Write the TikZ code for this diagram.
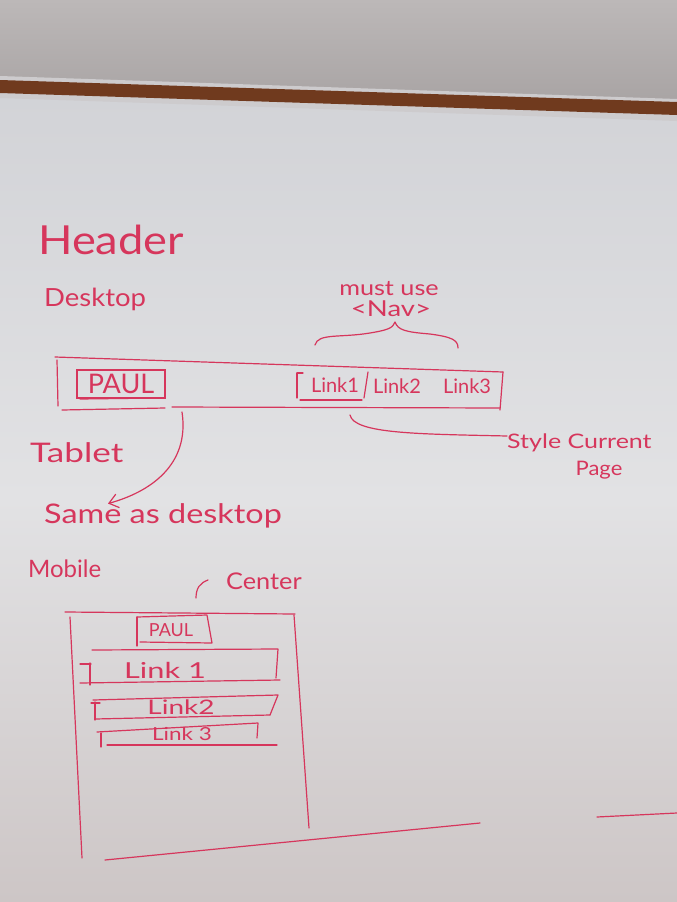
\documentclass[tikz,border=0pt]{standalone}
\usepackage{fontspec}
\setmainfont{Lato}
\usetikzlibrary{arrows.meta}
\definecolor{marker}{RGB}{214,54,92}
\definecolor{wall}{RGB}{165,160,160}
\definecolor{walltop}{RGB}{188,184,184}
\definecolor{ledge}{RGB}{112,58,30}
\definecolor{ledgeedge}{RGB}{205,203,205}
\definecolor{boardtop}{RGB}{210,211,215}
\definecolor{boardmid}{RGB}{226,226,228}
\definecolor{boardbot}{RGB}{205,198,198}
\newcommand{\fs}[1]{\fontsize{#1}{#1}\selectfont}
\newcommand{\wide}[2]{\scalebox{#1}[1]{#2}}
\begin{document}
\begin{tikzpicture}[x=1pt,y=-1pt,
  ink/.style={draw=marker, line width=1.2pt, line cap=round, line join=round},
  txt/.style={text=marker, inner sep=0pt, anchor=west},
  ctxt/.style={text=marker, inner sep=0pt, anchor=center}]
\useasboundingbox (0,0) rectangle (677,902);
% background: wall, ledge, whiteboard
\shade[top color=walltop, bottom color=wall] (0,0) rectangle (677,122);
\shade[top color=boardtop, bottom color=boardbot, middle color=boardmid] (0,96) -- (677,119) -- (677,902) -- (0,902) -- cycle;
\fill[ledgeedge] (0,76) -- (677,99) -- (677,121) -- (0,98) -- cycle;
\fill[ledge] (0,80) -- (677,102) -- (677,115) -- (0,93) -- cycle;

% ---------- Header / Desktop ----------
\node[txt, font=\fs{40}] (header) at (38,240) {\wide{1.13}{Header}};
\node[txt, font=\fs{25}] (desktop) at (44,299) {\wide{1.1}{Desktop}};
\node[ctxt, font=\fs{21}] (mustuse) at (389,289) {\wide{1.2}{must use}};
\node[ctxt, font=\fs{22}] (nav) at (391,309) {\wide{1.25}{<Nav>}};
\coordinate (bracetip) at (395,322);
% brace
\draw[ink] (315,345) .. controls (318,333) and (340,338) .. (370,333)
  .. controls (388,330) and (393,328) .. (bracetip)
  .. controls (398,330) and (405,332) .. (430,334)
  .. controls (452,337) and (458,340) .. (458,348);

% desktop bar
\draw[ink] (55,357) -- (503,372);
\draw[ink] (57,360) -- (58,406);
\draw[ink] (62,410) -- (165,408);
\draw[ink] (172,407) -- (500,408);
\draw[ink] (503,372) -- (500,410);
\coordinate (barbot) at (182,412);

\node[ctxt, font=\fs{27}, minimum width=88pt, minimum height=28pt, draw=marker, line width=1.2pt] (paul) at (121,384) {PAUL};
\draw[ink] (80,399) -- (160,398);

\draw[ink] (297,373) -- (297,398);
\draw[ink] (297,373) -- (303,373);
\node[ctxt, font=\fs{20}] (link1) at (335,385) {Link1};
\draw[ink] (300,400) -- (362,400);
\draw[ink] (368,372) -- (364,398);
\node[ctxt, font=\fs{20}] (link2) at (397,386) {Link2};
\node[ctxt, font=\fs{20}] (link3) at (467,386) {Link3};
\coordinate (curstart) at (350,415);

\node[txt, font=\fs{20}] (style) at (507,443) {\wide{1.25}{Style Current}};
\node[ctxt, font=\fs{20}] (page) at (599,470) {\wide{1.1}{Page}};
\draw[ink] (curstart) .. controls (354,434) and (420,434) .. (style.west |- 0,436);

% ---------- Tablet ----------
\node[txt, font=\fs{27}] (tablet) at (30,453) {\wide{1.3}{Tablet}};
\node[txt, font=\fs{27}] (same) at (44,516) {\wide{1.2}{Same as desktop}};
\draw[ink, -{Straight Barb[length=9pt, width=14pt]}] (barbot) .. controls (190,465) and (150,492) .. (same.north west -| 108,508);

% ---------- Mobile ----------
\node[txt, font=\fs{24}] (mobile) at (28,569) {Mobile};
\node[txt, font=\fs{23}] (center) at (226,581) {\wide{1.1}{Center}};
\draw[ink] (196,598) .. controls (196,588) and (200,583) .. (208,580);

\draw[ink] (65,612) -- (295,614);
\draw[ink] (70,617) -- (82,858);
\draw[ink] (294,615) -- (309,828);
\draw[ink] (105,860) -- (480,823);
\draw[ink] (597,817) -- (677,813);

% mobile PAUL
\draw[ink] (137,617) -- (137,646);
\draw[ink] (137,617) -- (207,615) -- (212,643) -- (140,642);
\node[ctxt, font=\fs{18}] (mpaul) at (171,630) {PAUL};

% link 1 bar
\draw[ink] (92,650) -- (278,649) -- (276,678);
\draw[ink] (80,683) -- (280,680);
\draw[ink] (90,663) -- (90,685);
\draw[ink] (80,664) -- (91,664);
\node[ctxt, font=\fs{22}] (mlink1) at (165,670) {\wide{1.4}{Link 1}};

% link 2 bar
\draw[ink] (93,700) -- (278,695) -- (270,715);
\draw[ink] (95,719) -- (270,715);
\draw[ink] (95,702) -- (95,720);
\draw[ink] (91,703) -- (100,703);
\node[ctxt, font=\fs{20}] (mlink2) at (181,707) {\wide{1.4}{Link2}};

% link 3 bar
\draw[ink] (97,732) -- (258,723) -- (257,738);
\draw[ink] (101,733) -- (101,747);
\draw[ink] (107,745) -- (277,745);
\node[ctxt, font=\fs{18}] (mlink3) at (182,734) {\wide{1.25}{Link 3}};
\end{tikzpicture}
\end{document}
